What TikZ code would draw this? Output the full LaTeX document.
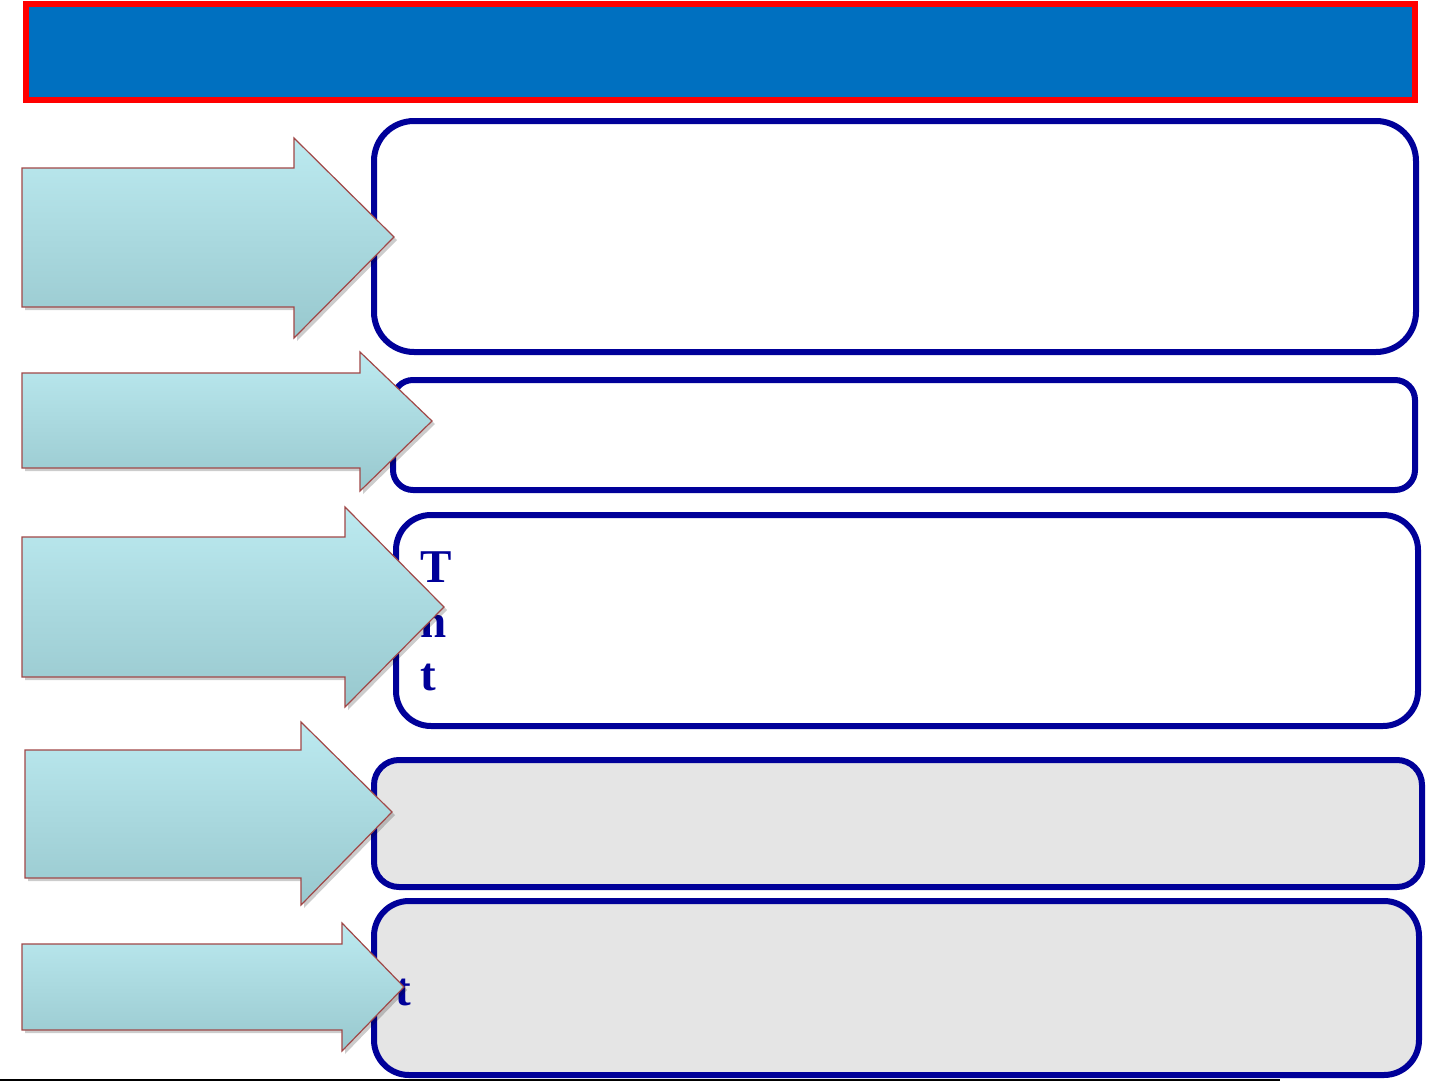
\documentclass[tikz,border=0pt]{standalone}
\usepackage{fontspec}
\setmainfont{Liberation Serif}
\definecolor{hdrblue}{HTML}{0070C0}
\definecolor{boxblue}{HTML}{000099}
\definecolor{boxgray}{HTML}{E5E5E5}
\definecolor{arrtop}{HTML}{BCEAF0}
\definecolor{arrbot}{HTML}{98C8CE}
\definecolor{arredge}{HTML}{A04848}
\tikzset{
  hdr/.style={draw=red, line width=6pt, fill=hdrblue},
  infobox/.style={draw=boxblue, line width=6pt, fill=white},
  graybox/.style={infobox, fill=boxgray},
  arrowshape/.style={draw=arredge, line width=1.2pt, top color=arrtop, bottom color=arrbot, line join=miter},
  arrowshadow/.style={fill=black, opacity=0.2},
  lbl/.style={text=boxblue, font=\fontsize{47}{54}\selectfont\bfseries, inner sep=0pt, anchor=base west}
}
\begin{document}
\begin{tikzpicture}[x=1pt,y=-1pt]
\useasboundingbox (0,0) rectangle (1441,1081);
\fill[white] (0,0) rectangle (1441,1081);
% header
\path[hdr] (26,4) rectangle (1415,100);
% boxes
\path[infobox, rounded corners=40pt] (374,121) rectangle (1416,352);
\path[infobox, rounded corners=20pt] (393,380) rectangle (1415,490);
\path[infobox, rounded corners=35pt] (396,515) rectangle (1418,726);
\path[graybox, rounded corners=25pt] (374,760) rectangle (1422,887);
\path[graybox, rounded corners=35pt] (374,901) rectangle (1419,1075);
% texts
\node[lbl] (t3a) at (420,582) {T};
\node[lbl] (t3b) at (420,637) {n};
\node[lbl] (t3c) at (420,690) {t};
\node[lbl] (t5) at (395,1005) {t};
% arrow shadows
\foreach \dx/\dy in {3/3}{
\fill[arrowshadow] (22+\dx,168+\dy) -- (294+\dx,168+\dy) -- (294+\dx,138+\dy) -- (394+\dx,237+\dy) -- (294+\dx,338+\dy) -- (294+\dx,307+\dy) -- (22+\dx,307+\dy) -- cycle;
\fill[arrowshadow] (22+\dx,373+\dy) -- (360+\dx,373+\dy) -- (360+\dx,352+\dy) -- (432+\dx,421+\dy) -- (360+\dx,491+\dy) -- (360+\dx,468+\dy) -- (22+\dx,468+\dy) -- cycle;
\fill[arrowshadow] (22+\dx,537+\dy) -- (345+\dx,537+\dy) -- (345+\dx,507+\dy) -- (444+\dx,607+\dy) -- (345+\dx,707+\dy) -- (345+\dx,677+\dy) -- (22+\dx,677+\dy) -- cycle;
\fill[arrowshadow] (25+\dx,750+\dy) -- (301+\dx,750+\dy) -- (301+\dx,722+\dy) -- (392+\dx,812+\dy) -- (301+\dx,905+\dy) -- (301+\dx,878+\dy) -- (25+\dx,878+\dy) -- cycle;
\fill[arrowshadow] (22+\dx,944+\dy) -- (342+\dx,944+\dy) -- (342+\dx,923+\dy) -- (404+\dx,987+\dy) -- (342+\dx,1051+\dy) -- (342+\dx,1030+\dy) -- (22+\dx,1030+\dy) -- cycle;
}
% arrows
\path[arrowshape] (22,168) -- (294,168) -- (294,138) -- (394,237) -- (294,338) -- (294,307) -- (22,307) -- cycle;
\path[arrowshape] (22,373) -- (360,373) -- (360,352) -- (432,421) -- (360,491) -- (360,468) -- (22,468) -- cycle;
\path[arrowshape] (22,537) -- (345,537) -- (345,507) -- (444,607) -- (345,707) -- (345,677) -- (22,677) -- cycle;
\path[arrowshape] (25,750) -- (301,750) -- (301,722) -- (392,812) -- (301,905) -- (301,878) -- (25,878) -- cycle;
\path[arrowshape] (22,944) -- (342,944) -- (342,923) -- (404,987) -- (342,1051) -- (342,1030) -- (22,1030) -- cycle;
% bottom rule
\draw[black, line width=2pt] (0,1080) -- (1280,1080);
\end{tikzpicture}
\end{document}
